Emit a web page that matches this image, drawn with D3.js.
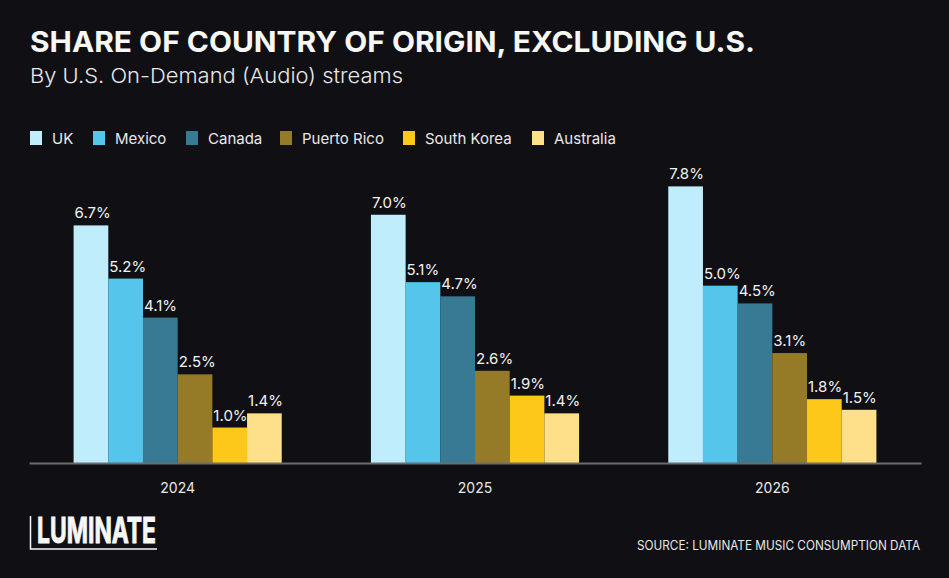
<!DOCTYPE html>
<html>
<head>
<meta charset="utf-8">
<script src="https://d3js.org/d3.v7.min.js"></script>
<style>
  html, body { margin: 0; padding: 0; background: #101014; }
  svg { display: block; }
  text { font-family: Inter, "Noto Sans", sans-serif; }
</style>
</head>
<body>
<script>
const years = ['2024', '2025', '2026'];
const countries = ['UK', 'Mexico', 'Canada', 'Puerto Rico', 'South Korea', 'Australia'];
const colors = ['#bfedfc', '#56c5ec', '#387a93', '#957b28', '#fec81a', '#fee08a'];
const uk = [6.7, 7.0, 7.8];
const mexico = [5.2, 5.1, 5.0];
const canada = [4.1, 4.7, 4.5];
const puertoRico = [2.5, 2.6, 3.1];
const southKorea = [1.0, 1.9, 1.8];
const australia = [1.4, 1.4, 1.5];

const series = [uk, mexico, canada, puertoRico, southKorea, australia];
const data = years.map((yr, i) => ({
  year: yr,
  values: countries.map((c, j) => ({ key: c, value: series[j][i] }))
}));

const width = 949, height = 578;
const axisY = 463;

const svg = d3.select('body').append('svg')
  .attr('width', width).attr('height', height);

svg.append('rect').attr('width', width).attr('height', height).attr('fill', '#101014');

// title
svg.append('text')
  .attr('x', 30).attr('y', 52)
  .attr('fill', '#f7f7f5')
  .attr('font-size', 28.5)
  .attr('font-weight', 700)
  .attr('textLength', 725)
  .attr('lengthAdjust', 'spacingAndGlyphs')
  .text('SHARE OF COUNTRY OF ORIGIN, EXCLUDING U.S.');

svg.append('text')
  .attr('x', 30).attr('y', 83)
  .attr('fill', '#e8e8e8')
  .attr('font-size', 20.5)
  .attr('font-weight', 300)
  .attr('textLength', 373)
  .attr('lengthAdjust', 'spacingAndGlyphs')
  .text('By U.S. On-Demand (Audio) streams');

// legend
const legendX = [30, 93, 186, 280, 403, 532];
const legend = svg.append('g').selectAll('g')
  .data(countries)
  .join('g')
  .attr('transform', (d, i) => `translate(${legendX[i]},131)`);

legend.append('rect')
  .attr('width', 12).attr('height', 14)
  .attr('fill', (d, i) => colors[i]);

legend.append('text')
  .attr('x', 22).attr('y', 12.5)
  .attr('fill', '#e8e8e8')
  .attr('font-size', 15)
  .text(d => d);

// scales
const x0 = d3.scaleBand()
  .domain(years)
  .range([29, 921])
  .paddingInner(0.3)
  .paddingOuter(0.15);

const x1 = d3.scaleBand()
  .domain(countries)
  .range([0, x0.bandwidth()]);

const y = d3.scaleLinear()
  .domain([0, 7.8])
  .range([axisY, axisY - 276.6]);

const color = d3.scaleOrdinal().domain(countries).range(colors);

const groups = svg.append('g').selectAll('g')
  .data(data)
  .join('g')
  .attr('transform', d => `translate(${x0(d.year)},0)`);

groups.selectAll('rect')
  .data(d => d.values)
  .join('rect')
  .attr('x', d => x1(d.key))
  .attr('y', d => y(d.value))
  .attr('width', x1.bandwidth())
  .attr('height', d => y(0) - y(d.value))
  .attr('fill', d => color(d.key));

groups.selectAll('text.val')
  .data(d => d.values)
  .join('text')
  .attr('class', 'val')
  .attr('x', d => x1(d.key) + 1)
  .attr('y', d => y(d.value) - 7)
  .attr('fill', '#f2f2f2')
  .attr('font-size', 15)
  .text(d => d.value.toFixed(1) + '%');

// axis
const xAxis = svg.append('g')
  .attr('transform', `translate(0,${axisY})`)
  .call(d3.axisBottom(x0).tickSize(0).tickPadding(20));

xAxis.select('.domain').attr('stroke', '#6b6b70').attr('stroke-width', 2);
xAxis.selectAll('text')
  .attr('fill', '#e8e8e8')
  .attr('font-size', 14)
  .attr('font-family', 'Inter, "Noto Sans", sans-serif');

// logo
const logo = svg.append('g');
logo.append('path')
  .attr('d', 'M30.5,516 V549 H157')
  .attr('fill', 'none')
  .attr('stroke', '#f7f7f5')
  .attr('stroke-width', 1.5);
logo.append('text')
  .attr('x', 37).attr('y', 543)
  .attr('fill', '#f7f7f5')
  .attr('stroke', '#f7f7f5')
  .attr('stroke-width', 1)
  .attr('font-family', '"DejaVu Sans Condensed", "DejaVu Sans", sans-serif')
  .attr('font-weight', 700)
  .attr('font-size', 36)
  .attr('textLength', 119)
  .attr('lengthAdjust', 'spacingAndGlyphs')
  .text('LUMINATE');

// source
svg.append('text')
  .attr('x', 920).attr('y', 550)
  .attr('text-anchor', 'end')
  .attr('fill', '#e8e8e8')
  .attr('font-size', 12.5)
  .attr('textLength', 283)
  .attr('lengthAdjust', 'spacingAndGlyphs')
  .text('SOURCE: LUMINATE MUSIC CONSUMPTION DATA');
</script>
</body>
</html>
